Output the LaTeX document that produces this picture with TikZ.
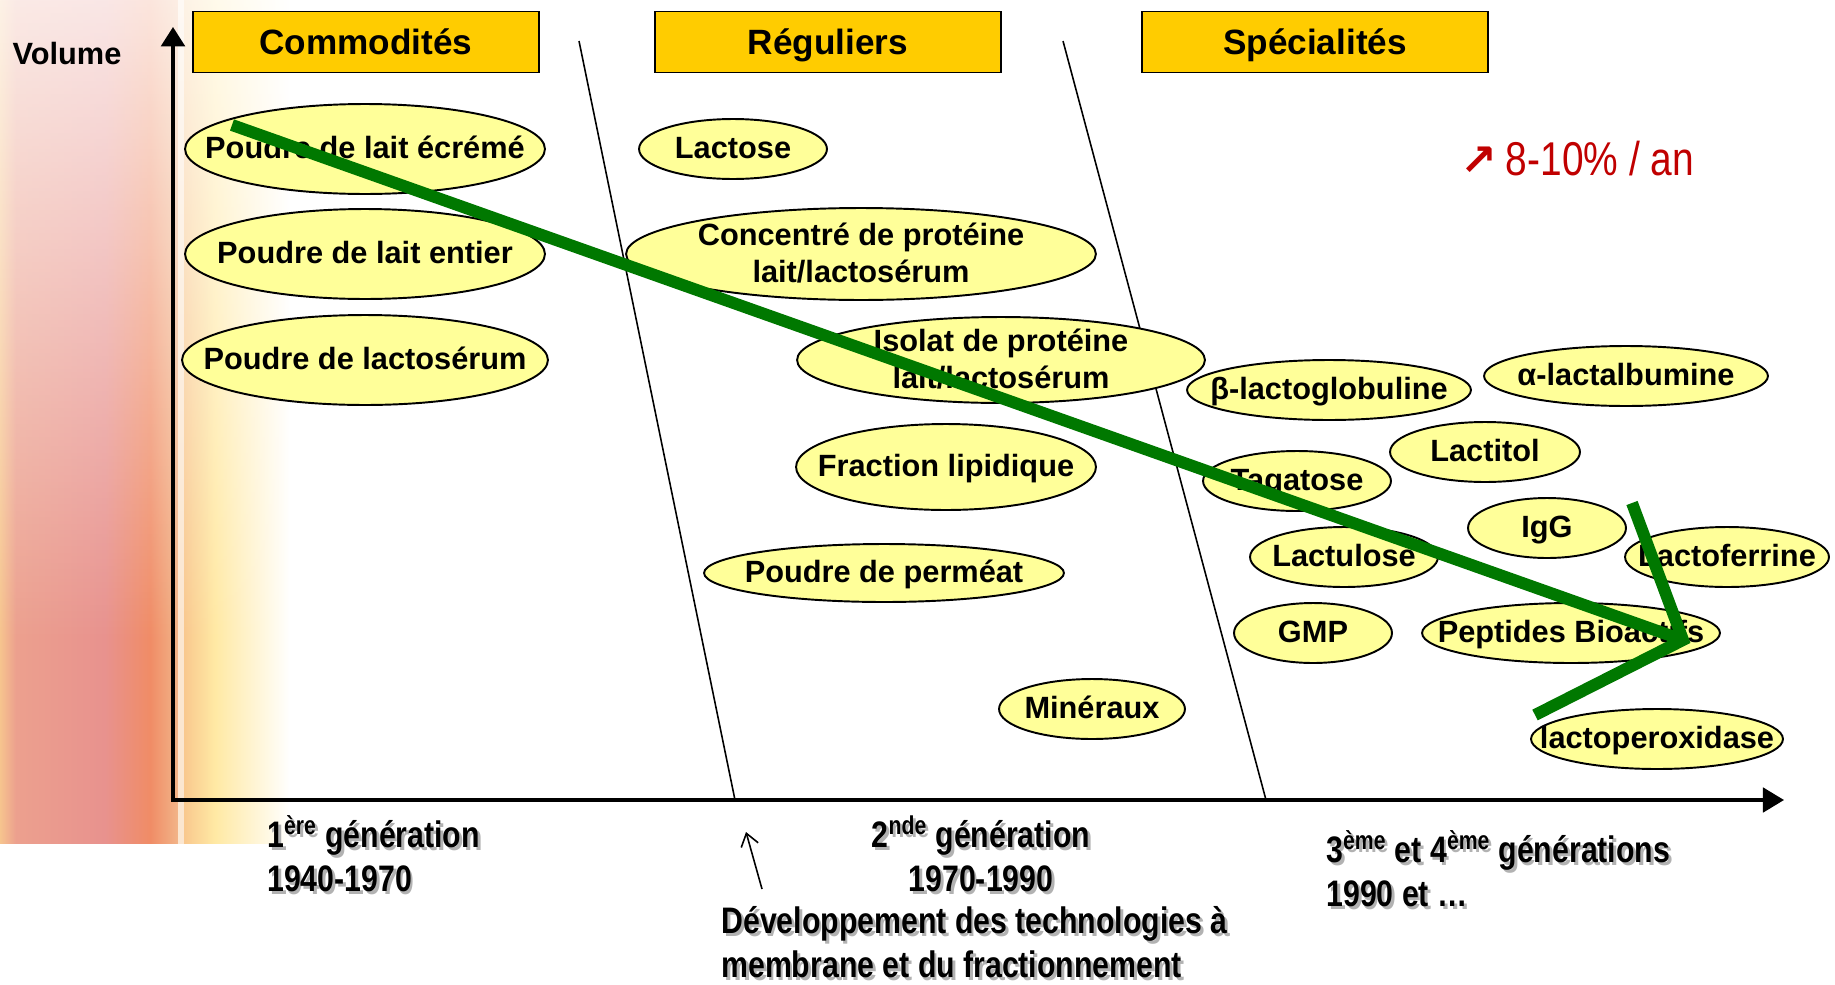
\documentclass[tikz,border=0pt]{standalone}
\usepackage{fontspec}
\setmainfont{Liberation Sans}
\newfontfamily\narrowfont[FakeStretch=0.82]{Liberation Sans}
\newfontfamily\symbfont{DejaVu Sans}
\usetikzlibrary{arrows.meta,shapes.geometric,fadings}
\tikzset {>={Straight Barb[length=7pt,width=10pt]}}

\definecolor{catgold}{HTML}{FFCC00}
\definecolor{prodyellow}{HTML}{FFFF99}
\definecolor{trendgreen}{HTML}{007800}
\definecolor{growred}{HTML}{C00000}
\definecolor{bgA}{HTML}{F6C48E}
\definecolor{bgB}{HTML}{ECA08E}
\definecolor{bgC}{HTML}{E8928E}
\definecolor{bgD}{HTML}{F08C66}
\definecolor{bgE}{HTML}{F2B488}
\definecolor{bgW}{HTML}{FBE6D0}
\definecolor{bgF}{HTML}{F9C88E}
\definecolor{bgG}{HTML}{FFE9A4}

\tikzfading[name=fadetop, top color=transparent!22, bottom color=transparent!100]

\newcommand\plab[1]{\makebox[0pt]{\begin{tabular}{@{}c@{}}#1\end{tabular}}}
\newcommand\shd[1]{\makebox[0pt][l]{\hspace{1.6pt}\raisebox{-1.6pt}{\color{black!30}#1}}#1}

\tikzset{
  cat/.style={draw, line width=1.1pt, fill=catgold, minimum width=6.92cm, minimum height=1.22cm, inner sep=0pt, text height=14.4pt, text depth=0pt, font=\bfseries\fontsize{20}{24}\selectfont},
  prod/.style 2 args={ellipse, draw, line width=1.1pt, fill=prodyellow, inner sep=0pt, minimum width=#1*0.04cm, minimum height=#2*0.04cm, text height=11.2pt, text depth=-11.2pt, font=\bfseries\fontsize{17.5}{21}\selectfont},
  gen/.style={inner sep=0pt, font=\narrowfont\bfseries\fontsize{21}{25}\selectfont},
  trend/.style={line width=6.8pt, trendgreen},
  sep/.style={line width=0.9pt},
}

\begin{document}
\begin{tikzpicture}[x=0.02cm,y=-0.02cm]
\useasboundingbox (0,0) rectangle (1835,984);

% left background
\foreach \xa/\xb/\ca/\cb in {0/16/bgA/bgB, 16/105/bgB/bgC, 105/150/bgC/bgD, 150/178/bgD/bgE, 178/184/bgW/bgW, 184/215/bgF/bgG, 215/290/bgG/white}
  \shade[left color=\ca, right color=\cb] (\xa,0) rectangle (\xb,843);
\fill[white, path fading=fadetop] (0,0) rectangle (290,640);

\node[font=\bfseries\fontsize{17.5}{21}\selectfont] (vol) at (67,54) {Volume};

\node[cat] (com) at (366,42) {Commodités};
\node[cat] (reg) at (828,42) {Réguliers};
\node[cat] (spe) at (1315,42) {Spécialités};

% axes
\coordinate (O) at (173,800);
\coordinate (ytop) at (173,27);
\coordinate (xend) at (1784,800);
\draw[{Triangle[length=11pt,width=13.5pt]}-{Triangle[length=12pt,width=14pt]}, line width=1.8pt] (ytop) -- (O) -- (xend);

\coordinate (s1t) at (579,41);
\coordinate (s1b) at (735,800);
\coordinate (s2t) at (1063,41);
\coordinate (s2b) at (1266,800);
\draw[sep] (s1t) -- (s1b);
\draw[sep] (s2t) -- (s2b);

% products
\node[prod={180}{45}] (p1) at (365,149) {\plab{Poudre de lait écrémé}};
\node[prod={180}{45}] (p2) at (365,254) {\plab{Poudre de lait entier}};
\node[prod={183}{45}] (p3) at (365,360) {\plab{Poudre de lactosérum}};
\node[prod={94}{30}] (r1) at (733,149) {\plab{Lactose}};
\node[prod={235}{46}] (r2) at (861,254) {\plab{Concentré de protéine\\lait/lactosérum}};
\node[prod={204}{43}] (r3) at (1001,360) {\plab{Isolat de protéine\\lait/lactosérum}};
\node[prod={150}{43}] (r4) at (946,467) {\plab{Fraction lipidique}};
\node[prod={180}{29}] (r5) at (884,573) {\plab{Poudre de perméat}};
\node[prod={93}{30}] (r6) at (1092,709) {\plab{Minéraux}};
\node[prod={142}{30}] (s1) at (1329,390) {\plab{β-lactoglobuline}};
\node[prod={142}{30}] (s2) at (1626,376) {\plab{α-lactalbumine}};
\node[prod={95}{30}] (s3) at (1485,452) {\plab{Lactitol}};
\node[prod={94}{30}] (s4) at (1297,481) {\plab{Tagatose}};
\node[prod={79}{30}] (s5) at (1547,528) {\plab{IgG}};
\node[prod={94}{30}] (s6) at (1344,557) {\plab{Lactulose}};
\node[prod={102}{30}] (s7) at (1727,557) {\plab{Lactoferrine}};
\node[prod={79}{30}] (s8) at (1313,633) {\plab{GMP}};
\node[prod={149}{30}] (s9) at (1571,633) {\plab{Peptides Bioactifs}};
\node[prod={126}{30}] (s10) at (1657,739) {\plab{lactoperoxidase}};

% trend
\coordinate (ts) at (232,125);
\coordinate (te) at (1683,640);
\coordinate (ha) at (1632,503);
\coordinate (hb) at (1535,715);
\draw[trend] (ts) -- (te);
\draw[trend] (ha) -- (te) -- (hb);

\node[anchor=west, inner sep=0pt, text=growred, font=\narrowfont\fontsize{27}{32}\selectfont] (rate) at (1460,159) {{\symbfont\bfseries\fontsize{25}{30}\selectfont ↗}\hspace{5pt}8-10\% / an};

% generations
\node[gen, anchor=west, align=left] (g1) at (267,855) {\shd{1\textsuperscript{ère} génération}\\\shd{1940-1970}};
\node[gen, align=center] (g2) at (981,855) {\shd{2\textsuperscript{nde} génération}\\\shd{1970-1990}};
\node[gen, anchor=west, align=left] (g3) at (1326,870) {\shd{3\textsuperscript{ème} et 4\textsuperscript{ème} générations}\\\shd{1990 et …}};
\node[gen, anchor=west, align=left] (dev) at (721,944) {\shd{Développement des technologies à}\\\shd{membrane et du fractionnement}};
\coordinate (pt) at (746,832);
\coordinate (pb) at (762,889);
\draw[->, line width=0.9pt] (pb) -- (pt);
\end{tikzpicture}
\end{document}
